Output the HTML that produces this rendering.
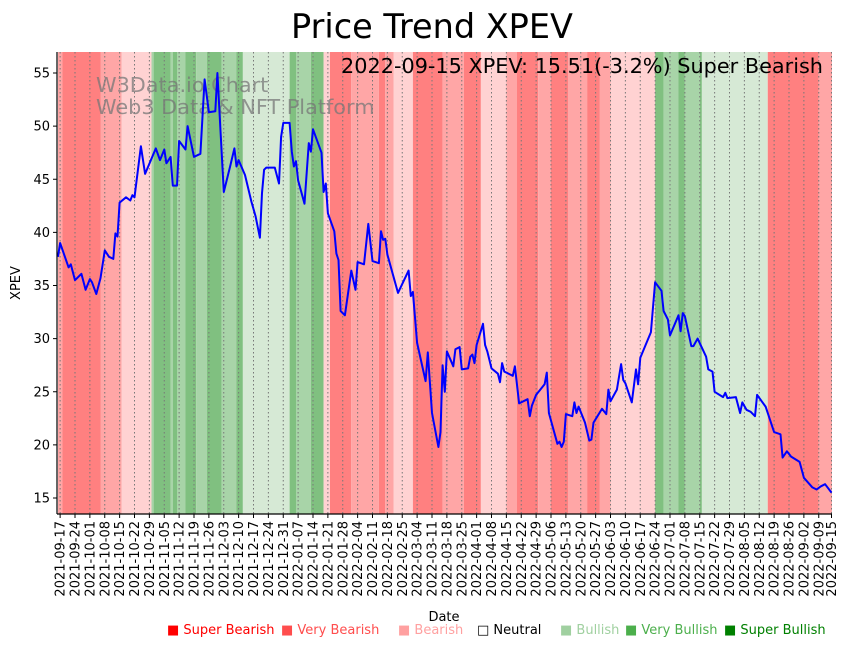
<!DOCTYPE html>
<html><head><meta charset="utf-8">
<style>
body{margin:0;background:#fff;font-family:"Liberation Sans","DejaVu Sans",sans-serif;}
svg text{font-family:"DejaVu Sans","Liberation Sans",sans-serif;}
</style></head>
<body>
<svg id="chart" width="851" height="646" xmlns="http://www.w3.org/2000/svg">
<text x="432" y="38" text-anchor="middle" font-size="33.5">Price Trend XPEV</text>
<g id="bands"></g>
<g id="grid"></g>
<g fill="#777" fill-opacity="0.75" font-size="20.8">
<text x="96" y="92">W3Data.io Chart</text>
<text x="96" y="114">Web3 Data &amp; NFT Platform</text>
</g>
<polyline id="line" fill="none" stroke="#0000ff" stroke-width="2" stroke-linejoin="round"/>
<text x="823" y="73" text-anchor="end" font-size="20.8">2022-09-15 XPEV: 15.51(-3.2%) Super Bearish</text>
<g id="axes"></g>
<text x="444" y="621" text-anchor="middle" font-size="13">Date</text>
<text x="20" y="283" text-anchor="middle" font-size="13" transform="rotate(-90 20 283)">XPEV</text>
<g id="legend" font-size="13"></g>
</svg>
<script>
const dayIndex=[0,1,5,6,8,11,13,15,16,18,20,22,24,26,27,28,29,32,34,35,36,39,41,46,48,50,51,53,54,56,57,60,61,64,67,69,71,74,75,78,81,83,84,85,88,91,93,95,96,97,98,102,104,105,106,109,110,111,112,113,116,118,119,120,124,125,126,127,130,131,132,133,135,138,140,141,144,146,148,151,152,153,154,155,160,165,166,167,169,173,174,176,179,180,181,182,183,186,187,189,190,193,194,195,196,197,200,201,202,204,207,208,209,210,214,215,217,221,222,223,225,229,230,231,235,236,237,238,239,242,243,244,245,248,250,251,252,256,258,259,260,263,265,266,267,270,272,273,274,279,281,284,285,287,288,292,293,294,295,298,299,301,305,306,308,309,313,314,315,319,321,322,324,326,328,329,333,337,340,341,343,345,349,351,355,357,359,361,364];
const prices=[37.7,39.0,36.7,37.0,35.5,36.1,34.6,35.6,35.3,34.2,35.7,38.3,37.7,37.5,39.9,39.6,42.8,43.3,43.0,43.5,43.3,48.1,45.5,47.9,46.8,47.8,46.5,47.1,44.4,44.4,48.6,47.8,50.0,47.1,47.4,54.4,51.3,51.4,55.0,43.8,46.2,47.9,46.2,46.8,45.4,42.9,41.5,39.5,43.7,45.9,46.1,46.1,44.6,49.0,50.3,50.3,47.6,46.2,46.7,44.9,42.7,48.4,47.6,49.7,47.5,43.8,44.6,41.8,40.1,38.0,37.4,32.6,32.2,36.4,34.6,37.2,37.0,40.8,37.3,37.1,40.1,39.3,39.4,37.9,34.3,36.4,34.0,34.4,29.6,26.0,28.7,23.0,19.8,21.2,27.5,25.0,28.8,27.4,29.0,29.2,27.1,27.2,28.3,28.5,27.7,29.4,31.4,29.4,28.8,27.2,26.7,25.9,27.7,26.9,26.5,27.4,23.9,24.3,22.7,23.7,24.7,25.7,26.8,23.0,20.1,20.3,19.8,20.3,22.9,22.7,24.0,23.0,23.6,22.1,20.4,20.5,22.1,23.4,22.9,25.2,24.1,25.2,27.6,26.1,25.8,24.0,27.1,25.7,28.2,30.6,35.3,34.5,32.6,31.8,30.3,32.2,30.7,32.4,32.1,29.3,29.3,30.0,28.3,27.1,26.9,25.0,24.5,24.9,24.4,24.5,23.0,24.0,23.3,23.1,22.7,24.7,23.6,21.2,21.0,18.8,19.4,18.9,18.4,16.9,16.0,15.8,16.1,16.3,15.51];
const bandStart=[0,2,20,30,44,45,53,54,56,60,65,70,77,84,87,109,112,119,125,128,138,151,154,158,167,181,191,199,211,216,226,232,240,249,255,260,281,285,292,295,302,303,334,358];
const bandLevel=[-2,-3,-2,-1,2,3,2,3,2,3,2,3,2,3,1,3,2,3,-1,-3,-2,-3,-2,-1,-3,-2,-3,-1,-2,-3,-2,-3,-2,-3,-2,-1,3,2,3,2,3,1,-3,-2];
const bandEndDay=365;
const yTicks=[15,20,25,30,35,40,45,50,55];
const tickStartDate='2021-09-17';
const lastTickLabel='2022-09-15';
const legendLabels=['Super Bearish','Very Bearish','Bearish','Neutral','Bullish','Very Bullish','Super Bullish'];

const NS='http://www.w3.org/2000/svg';
const L=57,R=832,T=52,B=514;
const xS=d=>58+d*2.125;
const yS=v=>73+(55-v)*10.625;
const levelColor={'-3':'#ff8080','-2':'#ffa6a6','-1':'#ffd2d2','1':'#d6e9d5','2':'#a8d4a8','3':'#80c080'};
function mk(tag,attrs,parent){const e=document.createElementNS(NS,tag);for(const k in attrs)e.setAttribute(k,attrs[k]);parent.appendChild(e);return e;}

const bands=document.getElementById('bands');
bandStart.forEach((s,i)=>{
  const e=i+1<bandStart.length?bandStart[i+1]:bandEndDay;
  const x0=Math.max(L,xS(s)),x1=Math.min(R,xS(e));
  const r=mk('rect',{x:x0,y:T,width:x1-x0,height:B-T,fill:levelColor[bandLevel[i]]},bands);
  
  
});

const grid=document.getElementById('grid');
const axes=document.getElementById('axes');
const start=new Date(tickStartDate+'T00:00:00Z');
function fmt(d){return d.toISOString().slice(0,10);}
const tickDays=[],tickLabels=[];
for(let k=0;k<=51;k++){tickDays.push(1+7*k);const d=new Date(start.getTime()+7*k*86400000);tickLabels.push(fmt(d));}
tickDays.push(364);tickLabels.push(lastTickLabel);
tickDays.forEach((d,i)=>{
  const x=xS(d);
  const g=mk('line',{x1:x,x2:x,y1:T,y2:B,stroke:'#777','stroke-width':1,'stroke-dasharray':'1.5,2.5'},grid);
  
  
  mk('line',{x1:x,x2:x,y1:B,y2:B+4,stroke:'#000','stroke-width':1},axes);
  const t=mk('text',{x:x+4.5,y:B+7,'font-size':13,'text-anchor':'end',transform:`rotate(-90 ${x+4.5} ${B+7})`},axes);
  t.textContent=tickLabels[i];
  
  
});
yTicks.forEach(v=>{
  const y=yS(v);
  mk('line',{x1:L-4,x2:L,y1:y,y2:y,stroke:'#000','stroke-width':1},axes);
  const t=mk('text',{x:L-7,y:y+4.5,'font-size':13,'text-anchor':'end'},axes);
  t.textContent=v;
  
  
});
mk('line',{x1:L,x2:L,y1:T,y2:B,stroke:'#000','stroke-width':1.2},axes);
mk('line',{x1:L,x2:R,y1:B,y2:B,stroke:'#000','stroke-width':1.2},axes);

document.getElementById('line').setAttribute('points',dayIndex.map((d,i)=>xS(d).toFixed(1)+','+yS(prices[i]).toFixed(1)).join(' '));

const legend=document.getElementById('legend');
const legCol=['#ff0000','#ff4d4d','#ffa0a0','#000000','#a0d0a0','#4caf4c','#008000'];
const legX=[167,281,398,477,560,625,724];
legendLabels.forEach((lab,i)=>{
  const t=mk('text',{x:legX[i],y:634,fill:legCol[i]},legend);
  t.textContent=(i===3?'\u25A1 ':'\u25A0 ')+lab;
  
  
});
</script>
</body></html>
